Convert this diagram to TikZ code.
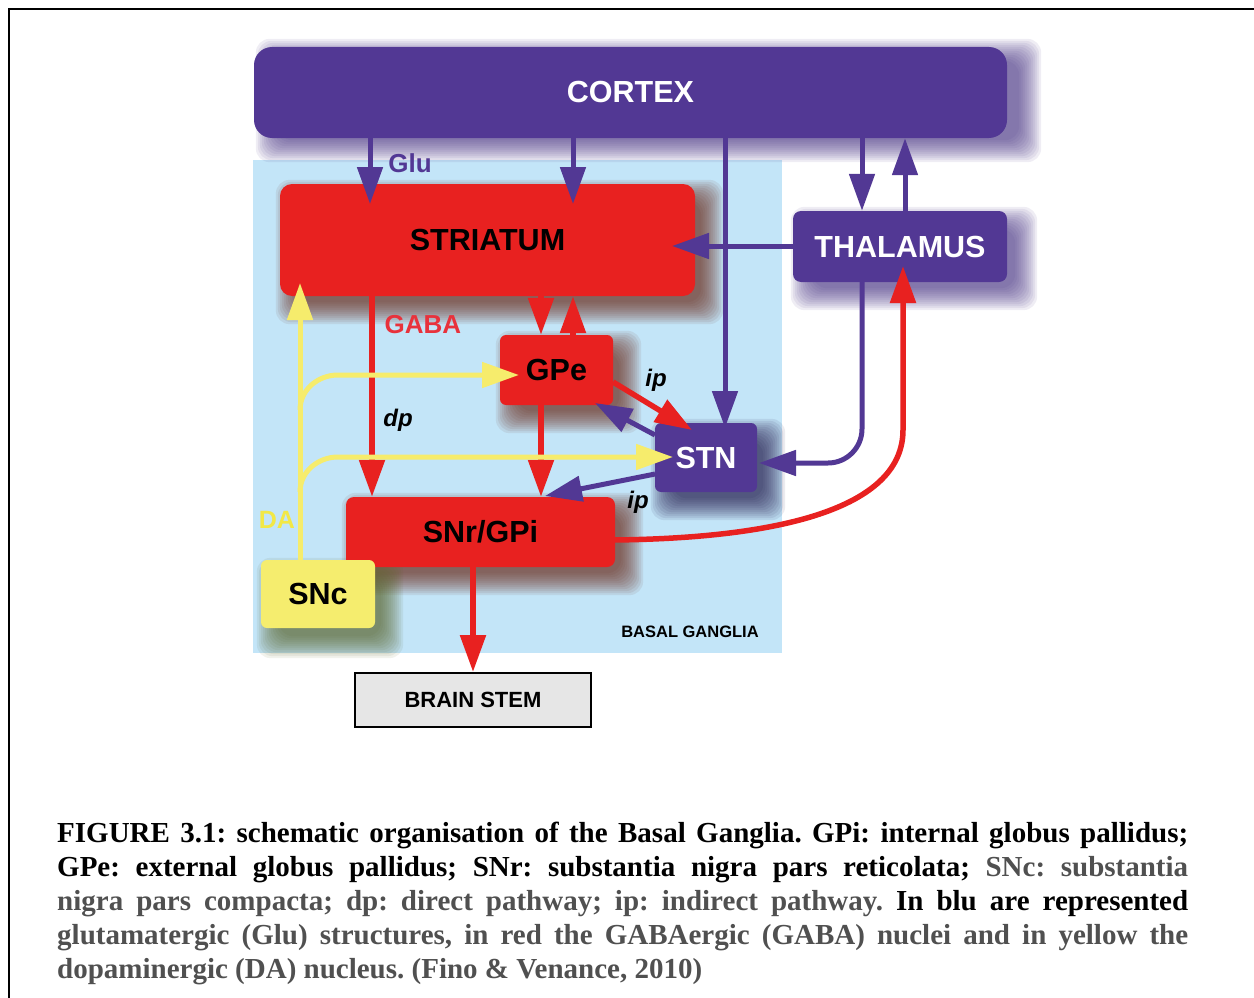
\documentclass[tikz,border=0pt]{standalone}
\usepackage{fontspec}
\setmainfont{Liberation Serif}
\newfontfamily\lsans{Liberation Sans}
\usetikzlibrary{arrows.meta,calc}
\definecolor{cpurple}{RGB}{82,56,148}
\definecolor{cred}{RGB}{232,33,32}
\definecolor{cblue}{RGB}{195,229,248}
\definecolor{cyelbox}{RGB}{245,237,110}
\definecolor{cyel}{RGB}{246,236,108}
\definecolor{cda}{RGB}{242,232,70}
\definecolor{cgaba}{RGB}{232,50,60}
\definecolor{cgray}{RGB}{80,80,80}
\definecolor{cstem}{RGB}{230,230,230}
\definecolor{shred}{RGB}{105,38,20}
\definecolor{shpur}{RGB}{70,50,130}
\definecolor{shnavy}{RGB}{30,20,70}
\definecolor{sholive}{RGB}{90,100,40}
\pgfdeclarelayer{bglayer}
\pgfdeclarelayer{shadowlayer}
\pgfsetlayers{bglayer,shadowlayer,main}
\newcommand\fuzzshadow[4]{%
  \begin{pgfonlayer}{shadowlayer}
    \foreach \e in {-6,-4,...,16}{%
      \fill[#2,opacity=0.085,rounded corners=14pt]
        ($(#1.north west)+({#3-(\e)},{#4-(\e)})$) rectangle ($(#1.south east)+({#3+\e},{#4+\e})$);
    }
  \end{pgfonlayer}}
\begin{document}
\begin{tikzpicture}[x=1pt,y=-1pt,
  arr/.style={-{Triangle[length=37pt,width=25pt]}},
  bluew/.style={draw=cpurple,line width=5pt,arr},
  redw/.style={draw=cred,line width=5.5pt,arr},
  yelw/.style={draw=cyel,line width=5pt,arr},
  box/.style={rectangle,inner sep=0pt,font=\lsans\bfseries\fontsize{30.5}{36}\selectfont},
  pbox/.style={box,fill=cpurple,text=white},
  rbox/.style={box,fill=cred,text=black},
  lab/.style={inner sep=0pt,font=\lsans\bfseries\fontsize{26}{30}\selectfont},
  ilab/.style={inner sep=0pt,font=\lsans\bfseries\itshape\fontsize{24}{28}\selectfont}]
\useasboundingbox (0,0) rectangle (1254,998);
\draw[line width=2.5pt] (9,998) -- (9,9) -- (1254,9);
\begin{pgfonlayer}{bglayer}
\fill[cblue] (253,160) rectangle (782,653);
\end{pgfonlayer}
% nodes
\node[pbox,rounded corners=18pt,minimum width=753pt,minimum height=91pt] (cortex) at (630.5,92.5) {CORTEX};
\node[rbox,rounded corners=12pt,minimum width=415pt,minimum height=112pt] (striatum) at (487.5,240) {STRIATUM};
\node[pbox,rounded corners=8pt,minimum width=214pt,minimum height=71pt] (thal) at (900,246.5) {THALAMUS};
\node[rbox,rounded corners=6pt,minimum width=113pt,minimum height=70pt] (gpe) at (556.5,370) {GPe};
\node[pbox,rounded corners=6pt,minimum width=102pt,minimum height=69pt] (stn) at (706,457.5) {STN};
\node[rbox,rounded corners=8pt,minimum width=269pt,minimum height=70pt] (snr) at (480.5,532) {SNr/GPi};
\node[box,fill=cyelbox,rounded corners=6pt,minimum width=114pt,minimum height=68pt] (snc) at (318,594) {SNc};
\node[box,fill=cstem,draw=black,line width=2pt,minimum width=236pt,minimum height=54pt,font=\lsans\bfseries\fontsize{22}{26}\selectfont] (stem) at (473,700) {BRAIN STEM};
\node[inner sep=0pt,font=\lsans\bfseries\fontsize{16.5}{20}\selectfont] (bglabel) at (690,632) {BASAL GANGLIA};
% shadows
\fuzzshadow{cortex}{shpur}{18}{8}
\fuzzshadow{striatum}{shred}{12}{12}
\fuzzshadow{thal}{shpur}{14}{12}
\fuzzshadow{gpe}{shred}{12}{12}
\fuzzshadow{stn}{shnavy}{12}{12}
\fuzzshadow{snr}{shred}{12}{12}
\fuzzshadow{snc}{sholive}{12}{14}
% labels
\node[lab,text=cpurple] (glu) at (410,163) {Glu};
\node[lab,text=cgaba] (gaba) at (423,325) {GABA};
\node[lab,text=cda,font=\lsans\bfseries\fontsize{25}{30}\selectfont] (da) at (277,520) {DA};
\node[ilab] (dp) at (398,420) {dp};
\node[ilab] (ip1) at (656,380) {ip};
\node[ilab] (ip2) at (638,502) {ip};
% coordinates
\coordinate (t1) at (370,204);
\coordinate (t2) at (573,204);
\coordinate (t3) at (725,428);
\coordinate (x862) at (862,0);
\coordinate (x905) at (905,0);
\coordinate (t6) at (672,246);
\coordinate (x541) at (541,0);
\coordinate (x573) at (573,0);
\coordinate (x372) at (372,0);
\coordinate (x473) at (473,0);
% blue connectors
\draw[bluew] (cortex.south -| t1) -- (t1);
\draw[bluew] (cortex.south -| t2) -- (t2);
\draw[bluew] (cortex.south -| t3) -- (t3);
\draw[bluew] (cortex.south -| x862) -- (thal.north -| x862);
\draw[bluew] (thal.north -| x905) -- (cortex.south -| x905);
\draw[bluew] (thal.west |- t6) -- (t6);
\coordinate (stnL1) at (655,435);
\coordinate (gpeT) at (595,403);
\draw[bluew] (stnL1) -- (gpeT);
\coordinate (stnL2) at (655,474);
\coordinate (snrT) at (545,496);
\draw[bluew] (stnL2) -- (snrT);
\coordinate (thstn) at (759,463);
\draw[bluew,rounded corners=34pt] (thal.south -| x862) -- (x862 |- thstn) -- (thstn);
% red connectors
\draw[redw] (striatum.south -| x541) -- (gpe.north -| x541);
\draw[redw] (gpe.north -| x573) -- (striatum.south -| x573);
\draw[redw] (striatum.south -| x372) -- (snr.north -| x372);
\draw[redw] (gpe.south -| x541) -- (snr.north -| x541);
\coordinate (gpeR) at (613,382);
\coordinate (stnT) at (692,430);
\draw[redw] (gpeR) -- (stnT);
\draw[redw] (snr.south -| x473) -- (stem.north -| x473);
\coordinate (snrR) at (614,540);
\coordinate (thT) at (903,266);
\draw[redw] (snrR) .. controls (790,538) and (903,505) .. (903,430) -- (thT);
% yellow connectors
\coordinate (x300) at (300,0);
\coordinate (stT) at (300,283);
\draw[yelw] (snc.north -| x300) -- (stT);
\coordinate (gpeY) at (519,375);
\draw[yelw] (300,410) to[out=90,in=180] (338,375) -- (gpeY);
\coordinate (stnY) at (673,457);
\draw[yelw] (300,492) to[out=90,in=180] (338,457) -- (stnY);
% caption
\node[anchor=north west,inner sep=0pt,text width=1131pt,align=justify,
  font=\bfseries\fontsize{29}{34}\selectfont] (caption) at (57,822)
  {\frenchspacing\hyphenpenalty=10000 FIGURE 3.1: schematic organisation of the Basal Ganglia. GPi: internal globus pallidus;\linebreak
   GPe: external globus pallidus; SNr: substantia nigra pars reticolata; {\color{cgray}SNc: substantia\linebreak
   nigra pars compacta; dp: direct pathway; ip: indirect pathway.} In blu are represented\linebreak
   {\color{cgray}glutamatergic (Glu) structures, in red the GABAergic (GABA) nuclei and in yellow the\linebreak
   dopaminergic (DA) nucleus. (Fino \& Venance, 2010)}};
\end{tikzpicture}
\end{document}
